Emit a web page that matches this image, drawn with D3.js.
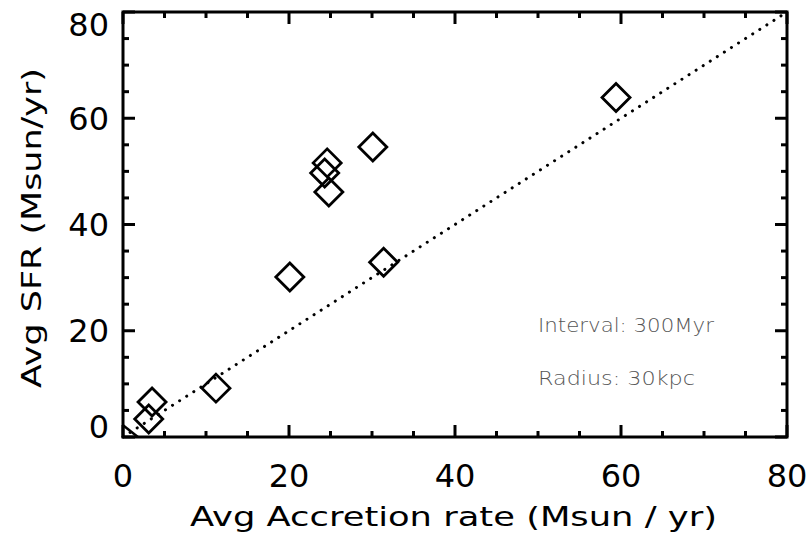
<!DOCTYPE html>
<html>
<head>
<meta charset="utf-8">
<script src="https://cdn.jsdelivr.net/npm/d3@7"></script>
<style>
  body { margin: 0; background: #fff; }
  svg { display: block; }
  .tick-label { font-family: "DejaVu Sans", sans-serif; font-size: 32px; fill: #000; }
  .axis-title { font-family: "DejaVu Sans", sans-serif; font-size: 27px; fill: #000; }
  .note { font-family: "DejaVu Sans", sans-serif; font-size: 20px; fill: #555; font-weight: 200; }
</style>
</head>
<body>
<svg id="chart" width="810" height="540"></svg>
<script>
// data
const accretion = [3.1, 3.5, 11.2, 20.1, 24.6, 24.3, 24.8, 30.1, 31.4, 59.4];
const sfr = [3.4, 6.6, 9.2, 30.1, 51.6, 49.7, 46.1, 54.6, 32.9, 63.9];
const oneToOne = [[0, 0], [80, 80]];
const cornerLine = [[0, 2.2], [1.8, 0]];
const majorTicks = [0, 20, 40, 60, 80];
const minorTicks = d3.range(0, 81, 5);
const notes = ["Interval: 300Myr", "Radius: 30kpc"];

const svg = d3.select("#chart");
const plotLeft = 123, plotRight = 787, plotTop = 12, plotBottom = 437;

const x = d3.scaleLinear().domain([0, 80]).range([plotLeft, plotRight]);
const y = d3.scaleLinear().domain([0, 80]).range([plotBottom, plotTop]);

const plot = svg.append("g");

// 1:1 dotted line
const line = d3.line().x(d => x(d[0])).y(d => y(d[1]));
plot.append("path")
  .attr("d", line(oneToOne))
  .attr("fill", "none")
  .attr("stroke", "#000")
  .attr("stroke-width", 3)
  .attr("stroke-linecap", "round")
  .attr("stroke-dasharray", "0.1 8.3");

plot.append("path")
  .attr("d", line(cornerLine))
  .attr("fill", "none")
  .attr("stroke", "#000")
  .attr("stroke-width", 2.5);

// diamonds
const r = 14;
plot.selectAll("path.pt")
  .data(accretion.map((a, i) => [a, sfr[i]]))
  .join("path")
  .attr("class", "pt")
  .attr("d", d => {
    const cx = x(d[0]), cy = y(d[1]);
    return `M${cx},${cy - r}L${cx + r},${cy}L${cx},${cy + r}L${cx - r},${cy}Z`;
  })
  .attr("fill", "none")
  .attr("stroke", "#000")
  .attr("stroke-width", 2.8);

// frame
svg.append("rect")
  .attr("x", plotLeft).attr("y", plotTop)
  .attr("width", plotRight - plotLeft).attr("height", plotBottom - plotTop)
  .attr("fill", "none")
  .attr("stroke", "#000")
  .attr("stroke-width", 3);

// ticks on all four sides
const tickLen = v => (majorTicks.includes(v) ? 12 : 6);
const ticks = svg.append("g").attr("stroke", "#000").attr("stroke-width", 3);
minorTicks.forEach(v => {
  const L = tickLen(v);
  ticks.append("line").attr("x1", x(v)).attr("x2", x(v)).attr("y1", plotBottom).attr("y2", plotBottom - L);
  ticks.append("line").attr("x1", x(v)).attr("x2", x(v)).attr("y1", plotTop).attr("y2", plotTop + L);
  ticks.append("line").attr("y1", y(v)).attr("y2", y(v)).attr("x1", plotLeft).attr("x2", plotLeft + L);
  ticks.append("line").attr("y1", y(v)).attr("y2", y(v)).attr("x1", plotRight).attr("x2", plotRight - L);
});

// tick labels
svg.selectAll("text.xl")
  .data(majorTicks)
  .join("text")
  .attr("class", "tick-label xl")
  .attr("x", d => x(d))
  .attr("y", 487)
  .attr("text-anchor", "middle")
  .text(d => d);

// end labels are kept inside the frame height
svg.selectAll("text.yl")
  .data(majorTicks)
  .join("text")
  .attr("class", "tick-label yl")
  .attr("x", 109)
  .attr("y", d => Math.min(Math.max(y(d), plotTop + 12), plotBottom - 11) + 11.5)
  .attr("text-anchor", "end")
  .text(d => d);

// axis titles
svg.append("text")
  .attr("class", "axis-title")
  .attr("x", 190)
  .attr("y", 526)
  .attr("textLength", 527)
  .attr("lengthAdjust", "spacingAndGlyphs")
  .text("Avg Accretion rate (Msun / yr)");

svg.append("text")
  .attr("class", "axis-title")
  .attr("transform", "translate(41,388) rotate(-90)")
  .attr("textLength", 320)
  .attr("lengthAdjust", "spacingAndGlyphs")
  .text("Avg SFR (Msun/yr)");

// annotations
const noteWidths = [176, 157];
svg.selectAll("text.note")
  .data(notes)
  .join("text")
  .attr("class", "note")
  .attr("x", 538)
  .attr("y", (d, i) => 332 + i * 53)
  .attr("textLength", (d, i) => noteWidths[i])
  .attr("lengthAdjust", "spacingAndGlyphs")
  .text(d => d);
</script>
</body>
</html>
